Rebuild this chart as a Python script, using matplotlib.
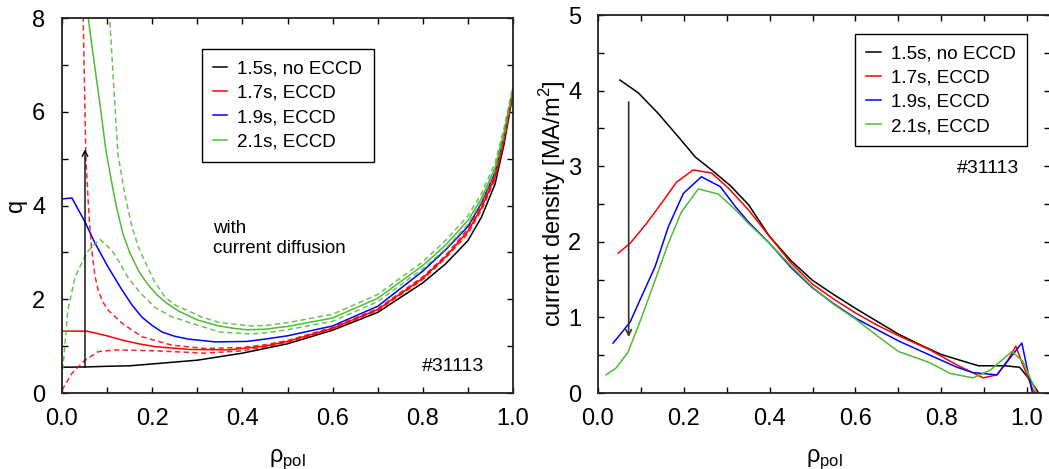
import numpy as np
import matplotlib
matplotlib.use('Agg')
import matplotlib.pyplot as plt
from matplotlib.ticker import MultipleLocator, FormatStrFormatter

plt.rcParams['font.family'] = ['Liberation Sans', 'DejaVu Sans']
plt.rcParams['mathtext.fontset'] = 'custom'
plt.rcParams['mathtext.rm'] = 'Liberation Sans'

# q profiles (left) -------------------------------------------
q_black_x = [0, 0.05, 0.1, 0.15, 0.2, 0.3, 0.4, 0.45, 0.5, 0.6, 0.7, 0.8, 0.85, 0.9, 0.93, 0.96, 0.98, 1.0]
q_black = [0.55, 0.555, 0.57, 0.58, 0.62, 0.70, 0.85, 0.95, 1.05, 1.34, 1.72, 2.35, 2.75, 3.25, 3.75, 4.45, 5.3, 6.4]

q_red_x = [0, 0.055, 0.1, 0.133, 0.17, 0.206, 0.28, 0.37, 0.45, 0.5, 0.6, 0.7, 0.8, 0.85, 0.9, 0.93, 0.96, 0.98, 1.0]
q_red = [1.32, 1.32, 1.22, 1.13, 1.05, 0.99, 0.93, 0.92, 1.0, 1.1, 1.38, 1.78, 2.45, 2.9, 3.45, 3.95, 4.6, 5.4, 6.45]

q_red_up_x = [0.046, 0.047, 0.053, 0.058, 0.062, 0.066, 0.073, 0.08, 0.09, 0.102, 0.133, 0.177, 0.244, 0.317, 0.4, 0.45,
              0.5, 0.6, 0.7, 0.8, 0.85, 0.9, 0.93, 0.96, 0.98, 1.0]
q_red_up = [8.5, 8.0, 5.0, 4.1, 3.5, 3.05, 2.5, 2.2, 1.95, 1.77, 1.49, 1.2, 1.02, 0.95, 0.97, 1.03,
            1.12, 1.40, 1.80, 2.48, 2.93, 3.5, 4.0, 4.65, 5.45, 6.45]

q_red_lo_x = [0, 0.022, 0.051, 0.08, 0.117, 0.206, 0.317, 0.4, 0.45, 0.5, 0.6, 0.7, 0.8, 0.85, 0.9, 0.93, 0.96, 0.98, 1.0]
q_red_lo = [0.06, 0.42, 0.7, 0.88, 0.92, 0.9, 0.85, 0.9, 0.98, 1.08, 1.36, 1.76, 2.42, 2.87, 3.4, 3.9, 4.55, 5.35, 6.4]

q_blue_x = [0, 0.022, 0.051, 0.073, 0.102, 0.133, 0.155, 0.177, 0.2, 0.222, 0.25, 0.28, 0.34, 0.41, 0.45,
            0.5, 0.6, 0.7, 0.8, 0.85, 0.9, 0.93, 0.96, 0.98, 1.0]
q_blue = [4.14, 4.16, 3.65, 3.2, 2.69, 2.2, 1.88, 1.62, 1.44, 1.3, 1.21, 1.15, 1.09, 1.10, 1.15,
          1.22, 1.43, 1.85, 2.6, 3.05, 3.55, 4.05, 4.7, 5.5, 6.45]

q_green_x = [0.057, 0.065, 0.075, 0.085, 0.097, 0.11, 0.12, 0.135, 0.15, 0.17, 0.19, 0.21, 0.23, 0.26, 0.3, 0.343,
             0.38, 0.41, 0.45, 0.5, 0.6, 0.7, 0.8, 0.85, 0.9, 0.93, 0.96, 0.98, 1.0]
q_green = [8.1, 7.5, 6.8, 6.1, 5.2, 4.5, 4.0, 3.4, 3.0, 2.6, 2.32, 2.1, 1.93, 1.74, 1.56, 1.44,
           1.38, 1.35, 1.36, 1.42, 1.6, 2.02, 2.72, 3.15, 3.68, 4.15, 4.8, 5.55, 6.5]

q_green_up_x = [0.105, 0.115, 0.124, 0.14, 0.155, 0.17, 0.184, 0.205, 0.228, 0.25, 0.28, 0.31, 0.35, 0.42, 0.45,
                0.5, 0.6, 0.7, 0.8, 0.85, 0.9, 0.93, 0.96, 0.98, 1.0]
q_green_up = [8.1, 6.5, 5.1, 4.2, 3.55, 3.1, 2.8, 2.38, 2.05, 1.88, 1.75, 1.62, 1.5, 1.43, 1.44,
              1.5, 1.68, 2.1, 2.8, 3.25, 3.78, 4.25, 4.9, 5.65, 6.55]

q_green_lo_x = [0, 0.002, 0.013, 0.029, 0.055, 0.084, 0.11, 0.128, 0.146, 0.175, 0.206, 0.24, 0.28, 0.35, 0.42, 0.45,
                0.5, 0.6, 0.7, 0.8, 0.85, 0.9, 0.93, 0.96, 0.98, 1.0]
q_green_lo = [0.5, 0.53, 1.77, 2.47, 3.0, 3.28, 3.05, 2.78, 2.47, 2.12, 1.83, 1.64, 1.51, 1.3, 1.26, 1.28,
              1.35, 1.53, 1.95, 2.65, 3.07, 3.6, 4.08, 4.73, 5.48, 6.45]

# current density profiles (right) ----------------------------
j_black_x = [0.051, 0.094, 0.14, 0.187, 0.227, 0.265, 0.309, 0.351, 0.4, 0.45, 0.5, 0.55, 0.6, 0.65, 0.7, 0.75, 0.8,
             0.84, 0.887, 0.949, 0.983, 1.01, 1.027]
j_black = [4.14, 3.97, 3.70, 3.39, 3.12, 2.95, 2.74, 2.49, 2.07, 1.75, 1.49, 1.30, 1.12, 0.95, 0.78, 0.64, 0.51,
           0.44, 0.36, 0.36, 0.34, 0.15, 0.0]

j_red_x = [0.047, 0.075, 0.11, 0.148, 0.183, 0.222, 0.265, 0.304, 0.351, 0.4, 0.45, 0.5, 0.55, 0.6, 0.65, 0.7,
           0.774, 0.837, 0.898, 0.93, 0.956, 0.974, 0.985, 1.014, 1.02]
j_red = [1.85, 1.98, 2.22, 2.51, 2.79, 2.95, 2.91, 2.71, 2.42, 2.07, 1.72, 1.44, 1.24, 1.06, 0.9, 0.76,
         0.57, 0.37, 0.2, 0.24, 0.44, 0.62, 0.45, 0.04, 0.0]

j_blue_x = [0.035, 0.054, 0.075, 0.101, 0.133, 0.164, 0.199, 0.241, 0.285, 0.321, 0.351, 0.4, 0.45, 0.5, 0.55,
            0.6, 0.65, 0.7, 0.774, 0.837, 0.874, 0.93, 0.96, 0.988, 1.011, 1.013]
j_blue = [0.66, 0.79, 0.94, 1.27, 1.67, 2.2, 2.64, 2.86, 2.73, 2.46, 2.26, 1.98, 1.66, 1.39, 1.18,
          0.99, 0.84, 0.69, 0.5, 0.34, 0.27, 0.24, 0.46, 0.66, 0.04, 0.0]

j_green_x = [0.019, 0.042, 0.07, 0.101, 0.133, 0.164, 0.194, 0.234, 0.281, 0.321, 0.351, 0.4, 0.45, 0.5, 0.55,
             0.6, 0.65, 0.7, 0.774, 0.82, 0.874, 0.914, 0.965, 0.99, 1.023]
j_green = [0.24, 0.33, 0.54, 0.99, 1.49, 1.98, 2.39, 2.70, 2.63, 2.42, 2.24, 1.98, 1.68, 1.40, 1.17,
           0.98, 0.76, 0.55, 0.40, 0.26, 0.20, 0.30, 0.55, 0.42, 0.0]

labels = ['1.5s, no ECCD', '1.7s, ECCD', '1.9s, ECCD', '2.1s, ECCD']
GREEN = '#4fbb35'

fig = plt.figure(figsize=(10.49, 4.69), dpi=100)
ax1 = fig.add_axes([62/1049, 1-393/469, 451/1049, 375/469])
ax2 = fig.add_axes([598/1049, 1-393/469, 452/1049, 378/469])

lw = 1.1
dash = (3.5, 2.2)

# left panel: q profiles, dashed = uncertainty band
ax1.plot(q_black_x, q_black, color='black', lw=lw, label=labels[0])
ax1.plot(q_red_x, q_red, color='red', lw=lw, label=labels[1])
ax1.plot(q_blue_x, q_blue, color='blue', lw=lw, label=labels[2])
ax1.plot(q_green_x, q_green, color=GREEN, lw=lw, label=labels[3])
ax1.plot(q_red_up_x, q_red_up, color='red', lw=lw, dashes=dash, alpha=0.85)
ax1.plot(q_red_lo_x, q_red_lo, color='red', lw=lw, dashes=dash, alpha=0.85)
ax1.plot(q_green_up_x, q_green_up, color=GREEN, lw=lw, dashes=dash, alpha=0.85)
ax1.plot(q_green_lo_x, q_green_lo, color=GREEN, lw=lw, dashes=dash, alpha=0.85)

ax1.annotate('', xy=(0.051, 5.2), xytext=(0.051, 0.55),
             arrowprops=dict(arrowstyle='->', color='black', lw=1.0, shrinkA=0, shrinkB=0))
ax1.text(0.335, 3.405, 'with', fontsize=13.5, va='baseline')
ax1.text(0.335, 2.99, 'current diffusion', fontsize=13.5, va='baseline')
ax1.text(0.798, 0.475, '#31113', fontsize=14, va='baseline')

ax1.set_xlim(0, 1)
ax1.set_ylim(0, 8)
ax1.xaxis.set_minor_locator(MultipleLocator(0.1))
ax1.yaxis.set_major_locator(MultipleLocator(2))
ax1.yaxis.set_minor_locator(MultipleLocator(1))
ax1.set_xlabel('ρ$_\\mathregular{pol}$', fontsize=17, labelpad=12)
ax1.set_ylabel('q', fontsize=17, labelpad=4)

# right panel: current density
ax2.plot(j_black_x, j_black, color='black', lw=lw, label=labels[0])
ax2.plot(j_red_x, j_red, color='red', lw=lw, label=labels[1])
ax2.plot(j_blue_x, j_blue, color='blue', lw=lw, label=labels[2])
ax2.plot(j_green_x, j_green, color=GREEN, lw=lw, label=labels[3])

ax2.annotate('', xy=(0.0715, 0.74), xytext=(0.0715, 3.85),
             arrowprops=dict(arrowstyle='->', color='#333333', lw=1.2, shrinkA=0, shrinkB=0))
ax2.text(0.837, 2.91, '#31113', fontsize=14, va='baseline')

ax2.set_xlim(0, 452/429)
ax2.set_ylim(0, 5)
ax2.xaxis.set_minor_locator(MultipleLocator(0.1))
ax2.yaxis.set_major_locator(MultipleLocator(1))
ax2.yaxis.set_minor_locator(MultipleLocator(0.5))
ax2.set_xlabel('ρ$_\\mathregular{pol}$', fontsize=17, labelpad=12)
ax2.set_ylabel('current density [MA/m$^\\mathregular{2}$]', fontsize=17, labelpad=0)

for ax in (ax1, ax2):
    ax.set_xticks(np.arange(0, 1.01, 0.2))
    ax.xaxis.set_major_formatter(FormatStrFormatter('%.1f'))
    ax.tick_params(which='both', direction='in', top=True, right=True, length=4, width=1, labelsize=17)
    ax.tick_params(axis='x', pad=11)
    ax.tick_params(axis='y', pad=12)
    for sp in ax.spines.values():
        sp.set_linewidth(1.3)
        sp.set_color('#222222')

leg_kw = dict(loc='upper left', fontsize=13.5, handlelength=0.75, handletextpad=0.55, labelspacing=0.38,
              borderpad=0.6, borderaxespad=0, fancybox=False, framealpha=1, edgecolor='black')
leg1 = ax1.legend(bbox_to_anchor=(0.31, 0.917), **leg_kw)
leg2 = ax2.legend(bbox_to_anchor=(0.569, 0.95), **leg_kw)
for leg in (leg1, leg2):
    leg.get_frame().set_linewidth(1.0)

plt.savefig('out.png', dpi=100)
